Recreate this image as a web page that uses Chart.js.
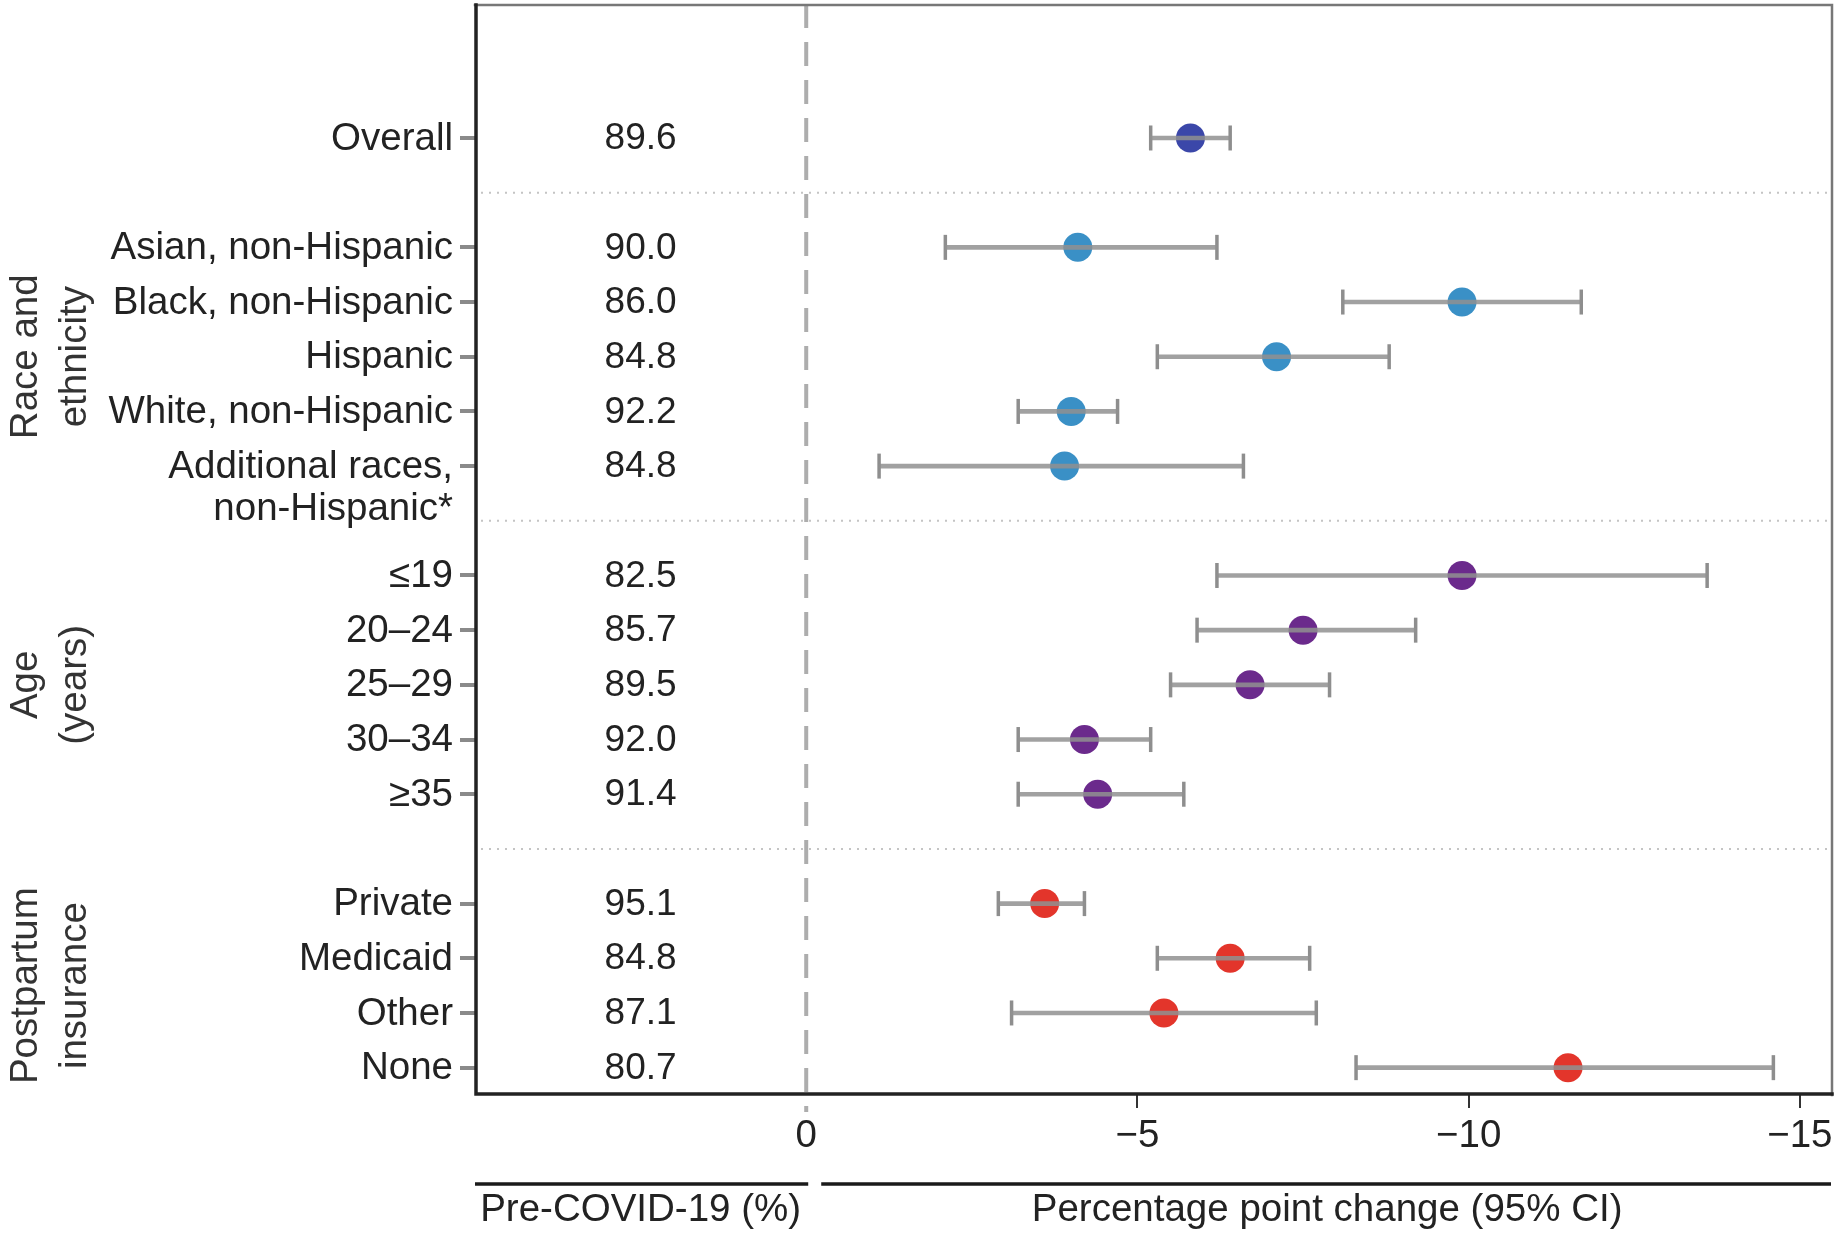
<!DOCTYPE html>
<html lang="en">
<head>
<meta charset="utf-8">
<title>Postpartum visit – percentage point change</title>
<script src="https://cdn.jsdelivr.net/npm/chart.js@4.4.1/dist/chart.umd.min.js"></script>
<style>
  * { margin:0; padding:0; box-sizing:border-box }
  body { background:#fff; width:1840px; height:1239px; overflow:hidden }
  #wrap { position:relative; width:1840px; height:1239px }
</style>
</head>
<body>
<div id="wrap"><canvas id="chart"></canvas></div>
<script>
// rows, top to bottom; rowPos is the place of each row on the y scale
const rowLabels = ['Overall',
  'Asian, non-Hispanic', 'Black, non-Hispanic', 'Hispanic', 'White, non-Hispanic', ['Additional races,', 'non-Hispanic*'],
  '≤19', '20–24', '25–29', '30–34', '≥35',
  'Private', 'Medicaid', 'Other', 'None'];
const rowPos   = [0, 2, 3, 4, 5, 6, 8, 9, 10, 11, 12, 14, 15, 16, 17];
const rowGroup = [0, 1, 1, 1, 1, 1, 2, 2, 2, 2, 2, 3, 3, 3, 3];
const preCovid = ['89.6', '90.0', '86.0', '84.8', '92.2', '84.8', '82.5', '85.7', '89.5', '92.0', '91.4', '95.1', '84.8', '87.1', '80.7'];
const change = [-5.8, -4.1, -9.9, -7.1, -4.0, -3.9, -9.9, -7.5, -6.7, -4.2, -4.4, -3.6, -6.4, -5.4, -11.5];
const ciLow  = [-5.2, -2.1, -8.1, -5.3, -3.2, -1.1, -6.2, -5.9, -5.5, -3.2, -3.2, -2.9, -5.3, -3.1, -8.3];
const ciHigh = [-6.4, -6.2, -11.7, -8.8, -4.7, -6.6, -13.6, -9.2, -7.9, -5.2, -5.7, -4.2, -7.6, -7.7, -14.6];
const groupTitles  = [['Race and', 'ethnicity'], ['Age', '(years)'], ['Postpartum', 'insurance']];
const groupCentres = [4, 10, 15.5];
const separators = [1, 7, 13];
const xTicks = [0, -5, -10, -15];
const groupColours = ['#3b47a9', '#3a90c6', '#6b2a8c', '#e3352b'];

const FONT = '"Liberation Sans", Arial, Helvetica, sans-serif';
Chart.defaults.font.family = FONT;
Chart.defaults.color = '#222';

const minus = v => v === 0 ? '0' : '\u2212' + Math.abs(v);

const decor = {
  id: 'decor',
  beforeDatasetsDraw(chart) {
    const { ctx, chartArea: a, scales: { x, y } } = chart;
    ctx.save();
    // dotted group separators
    ctx.strokeStyle = '#c4c4c4'; ctx.lineWidth = 2; ctx.setLineDash([2, 6]);
    separators.forEach(s => {
      const py = y.getPixelForValue(s);
      ctx.beginPath(); ctx.moveTo(a.left + 6, py); ctx.lineTo(a.right - 4, py); ctx.stroke();
    });
    // dashed zero line, runs a little below the frame
    const x0 = x.getPixelForValue(0);
    ctx.strokeStyle = '#adadad'; ctx.lineWidth = 4; ctx.setLineDash([24, 14]);
    ctx.beginPath(); ctx.moveTo(x0, a.top); ctx.lineTo(x0, a.bottom + 17); ctx.stroke();
    ctx.setLineDash([]);
    // pre-COVID column
    ctx.fillStyle = '#222'; ctx.font = '37px ' + FONT;
    ctx.textAlign = 'center'; ctx.textBaseline = 'middle';
    const xv = x.getPixelForValue(2.5);
    preCovid.forEach((v, i) => ctx.fillText(v, xv, y.getPixelForValue(rowPos[i]) + 1));
    ctx.restore();
  },
  afterDraw(chart) {
    const { ctx, chartArea: a, scales: { x, y } } = chart;
    ctx.save();
    // frame
    ctx.lineCap = 'square';
    ctx.strokeStyle = '#777'; ctx.lineWidth = 2.5;
    ctx.beginPath(); ctx.moveTo(a.left, a.top + 1); ctx.lineTo(a.right - 1, a.top + 1); ctx.lineTo(a.right - 1, a.bottom); ctx.stroke();
    ctx.strokeStyle = '#222'; ctx.lineWidth = 3.5;
    ctx.beginPath(); ctx.moveTo(a.left + 1, a.top + 1); ctx.lineTo(a.left + 1, a.bottom - 1); ctx.lineTo(a.right - 1, a.bottom - 1); ctx.stroke();
    ctx.lineCap = 'butt';

    // group titles, rotated
    ctx.fillStyle = '#333'; ctx.font = '38.5px ' + FONT;
    ctx.textAlign = 'center'; ctx.textBaseline = 'alphabetic';
    groupTitles.forEach((lines, g) => {
      const cy = y.getPixelForValue(groupCentres[g]);
      lines.forEach((t, j) => {
        ctx.save();
        ctx.translate(37 + j * 49, cy);
        ctx.rotate(-Math.PI / 2);
        ctx.fillText(t, 0, 0);
        ctx.restore();
      });
    });

    // underlined column titles
    const x0 = x.getPixelForValue(0);
    const lineY = 1184;
    ctx.strokeStyle = '#1a1a1a'; ctx.lineWidth = 3.5;
    ctx.beginPath(); ctx.moveTo(a.left, lineY); ctx.lineTo(x0 + 2, lineY); ctx.stroke();
    ctx.beginPath(); ctx.moveTo(x0 + 15, lineY); ctx.lineTo(a.right - 2, lineY); ctx.stroke();
    ctx.fillStyle = '#222'; ctx.textBaseline = 'middle';
    ctx.fillText('Pre-COVID-19 (%)', (a.left + x0) / 2, 1210);
    ctx.fillText('Percentage point change (95% CI)', (x0 + 15 + a.right) / 2, 1210);
    ctx.restore();
  }
};

new Chart(document.getElementById('chart'), {
  type: 'scatter',
  data: {
    datasets: [
      {
        // CI whiskers as thin floating bars
        type: 'bar',
        indexAxis: 'y',
        data: rowPos.map((p, i) => ({ y: p, x: [ciLow[i], ciHigh[i]] })),
        backgroundColor: 'rgba(145,145,145,0.85)',
        barThickness: 4,
        order: 0
      },
      {
        // CI end caps
        type: 'scatter',
        data: rowPos.flatMap((p, i) => [{ x: ciLow[i], y: p }, { x: ciHigh[i], y: p }]),
        pointStyle: 'line',
        pointRotation: 90,
        pointRadius: 12.5,
        pointBorderColor: '#8e8e8e',
        pointBorderWidth: 3.5,
        order: 2
      },
      {
        type: 'scatter',
        data: rowPos.map((p, i) => ({ x: change[i], y: p })),
        pointBackgroundColor: rowGroup.map(g => groupColours[g]),
        pointBorderWidth: 0,
        pointRadius: 14.5,
        order: 1
      }
    ]
  },
  options: {
    responsive: true,
    maintainAspectRatio: false,
    animation: false,
    events: [],
    layout: { autoPadding: false, padding: { top: 4, right: 7, left: 0, bottom: 0 } },
    plugins: { legend: { display: false }, tooltip: { enabled: false } },
    scales: {
      x: {
        type: 'linear',
        position: 'bottom',
        reverse: true,
        min: -15.5,
        max: 5,
        offset: false,
        afterBuildTicks: s => { s.ticks = xTicks.map(v => ({ value: v })); },
        afterFit: s => { s.height = 144; s.paddingLeft = 0; s.paddingRight = 0; },
        border: { display: false },
        grid: {
          drawOnChartArea: false,
          tickLength: 13,
          lineWidth: 2,
          color: c => (c.tick && c.tick.value === 0) ? 'rgba(0,0,0,0)' : '#333'
        },
        ticks: {
          font: { size: 38.5 },
          color: '#222',
          padding: 5,
          maxRotation: 0,
          autoSkip: false,
          callback: v => minus(v)
        }
      },
      y: {
        type: 'linear',
        reverse: true,
        min: -2.45,
        max: 17.5,
        offset: false,
        afterBuildTicks: s => { s.ticks = rowPos.map(v => ({ value: v })); },
        afterFit: s => { s.width = 475; s.paddingTop = 0; s.paddingBottom = 0; },
        border: { display: false },
        grid: {
          offset: false,
          drawOnChartArea: false,
          tickLength: 15,
          lineWidth: 4,
          color: '#8a8a8a'
        },
        ticks: {
          font: { size: 38.5, lineHeight: 1.1 },
          color: '#222',
          padding: 7,
          labelOffset: 1,
          autoSkip: false,
          callback: v => {
            const lbl = rowLabels[rowPos.indexOf(v)];
            return Array.isArray(lbl) ? [''].concat(lbl) : lbl;
          }
        }
      }
    }
  },
  plugins: [decor]
});
</script>
</body>
</html>
